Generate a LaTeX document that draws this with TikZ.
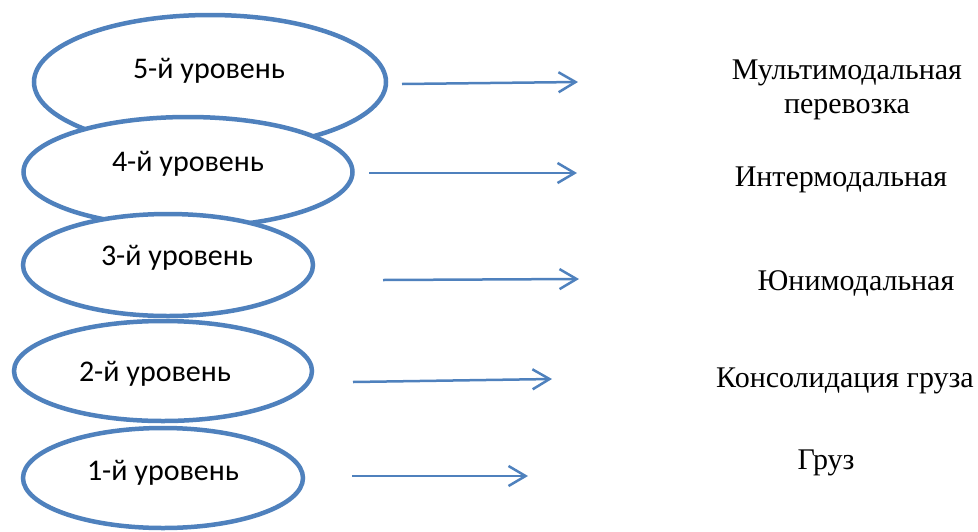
\documentclass[tikz,border=0pt]{standalone}
\usepackage{fontspec}
\setmainfont{Liberation Serif}
\newfontfamily\calib{Carlito}
\usetikzlibrary{shapes.geometric,arrows.meta}
\definecolor{obl}{HTML}{4F81BD}
\tikzset{
  lvl/.style={draw=obl, line width=4.5pt, fill=white, ellipse, inner sep=0pt},
  lvltext/.style={font=\calib\fontsize{30}{36}\selectfont, inner sep=0pt, anchor=center},
  rtext/.style={font=\fontsize{30}{34}\selectfont, inner sep=0pt, align=center, anchor=center},
  conn/.style={draw=obl, line width=2.5pt, -{Straight Barb[length=17pt,width=20pt,line width=2.5pt]}}
}
\begin{document}
\begin{tikzpicture}[x=1pt,y=-1pt]
\useasboundingbox (0,0) rectangle (978,531);
% ellipses (drawn top to bottom so the lower one covers the upper)
\node[lvl, minimum width=352pt, minimum height=134pt] (e5) at (210,82) {};
\node[lvl, minimum width=329pt, minimum height=110pt] (e4) at (188,172) {};
\node[lvl, minimum width=290pt, minimum height=102pt] (e3) at (168,265) {};
\node[lvl, minimum width=298pt, minimum height=100pt] (e2) at (163,371) {};
\node[lvl, minimum width=280pt, minimum height=100pt] (e1) at (163,478) {};
% ellipse labels
\node[lvltext] (t5) at (209,71) {5-й уровень};
\node[lvltext] (t4) at (188,164) {4-й уровень};
\node[lvltext] (t3) at (177,258) {3-й уровень};
\node[lvltext] (t2) at (155,374) {2-й уровень};
\node[lvltext] (t1) at (163,473) {1-й уровень};
% right-hand labels
\node[rtext] (r5) at (847,90) {Мультимодальная\\перевозка};
\node[rtext] (r4) at (841,180) {Интермодальная};
\node[rtext] (r3) at (856,283) {Юнимодальная};
\node[rtext] (r2) at (845,381) {Консолидация груза};
\node[rtext] (r1) at (826,463) {Груз};
% arrow ends
\coordinate (s5) at (402,84); \coordinate (f5) at (578,82);
\coordinate (s4) at (369,173); \coordinate (f4) at (577,173);
\coordinate (s3) at (383,280); \coordinate (f3) at (579,279);
\coordinate (s2) at (353,382); \coordinate (f2) at (552,379);
\coordinate (s1) at (352,476); \coordinate (f1) at (528,476);
\draw[conn] (s5) -- (f5);
\draw[conn] (s4) -- (f4);
\draw[conn] (s3) -- (f3);
\draw[conn] (s2) -- (f2);
\draw[conn] (s1) -- (f1);
\end{tikzpicture}
\end{document}
